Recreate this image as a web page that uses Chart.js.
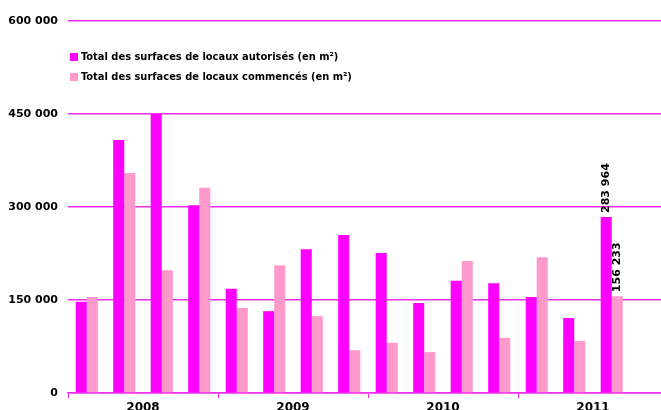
<!DOCTYPE html>
<html>
<head>
<meta charset="utf-8">
<script src="https://cdn.jsdelivr.net/npm/chart.js@4.4.0/dist/chart.umd.min.js"></script>
<style>
  html, body { margin: 0; padding: 0; background: #fff; overflow: hidden; }
  #wrap { width: 670px; height: 410px; }
</style>
</head>
<body>
<div id="wrap"><canvas id="c" width="670" height="410"></canvas></div>
<script>
const quarters = ['T1 2008','T2 2008','T3 2008','T4 2008','T1 2009','T2 2009','T3 2009','T4 2009',
                  'T1 2010','T2 2010','T3 2010','T4 2010','T1 2011','T2 2011','T3 2011','T4 2011'];
const years = ['2008','2009','2010','2011'];
const autorises = [147000, 408000, 450000, 303000, 168000, 132000, 232000, 255000,
                   226000, 145000, 181000, 177000, 155000, 121000, 283964, null];
const commences = [155000, 355000, 198000, 331000, 137000, 206000, 124000, 69000,
                   81000, 66000, 213000, 89000, 219000, 84000, 156233, null];
const yTicks = [0, 150000, 300000, 450000, 600000];
const labelledIndex = 14;
const seriesNames = ['Total des surfaces de locaux autorisés (en m²)',
                     'Total des surfaces de locaux commencés (en m²)'];

const MAGENTA = '#ff00ff';
const PINK = '#ff99cc';
const GRID = '#f02cf0';

function fmt(v) {
  return String(Math.round(v)).replace(/\B(?=(\d{3})+(?!\d))/g, ' ');
}

const tickFont = { family: "'DejaVu Sans', sans-serif", size: 11, weight: 'bold' };

const valueLabels = {
  id: 'valueLabels',
  afterDatasetsDraw(chart) {
    const ctx = chart.ctx;
    ctx.save();
    ctx.font = "bold 11px 'DejaVu Sans', sans-serif";
    ctx.fillStyle = '#000';
    ctx.textAlign = 'left';
    ctx.textBaseline = 'middle';
    chart.data.datasets.forEach((ds, i) => {
      const el = chart.getDatasetMeta(i).data[labelledIndex];
      const v = ds.data[labelledIndex];
      if (!el || v == null) return;
      ctx.save();
      ctx.translate(el.x, el.y - 4);
      ctx.rotate(-Math.PI / 2);
      ctx.fillText(fmt(v), 0, 0);
      ctx.restore();
    });
    ctx.restore();
  }
};

const innerLegend = {
  id: 'innerLegend',
  afterDraw(chart) {
    const ctx = chart.ctx;
    const x0 = chart.chartArea.left + 2;
    ctx.save();
    ctx.font = "bold 11px 'DejaVu Sans Condensed', 'Liberation Sans', sans-serif";
    ctx.textBaseline = 'middle';
    ctx.textAlign = 'left';
    chart.data.datasets.forEach((ds, i) => {
      const cy = 57 + i * 20;
      ctx.fillStyle = ds.backgroundColor;
      ctx.fillRect(x0, cy - 4, 8, 8);
      ctx.fillStyle = '#000';
      ctx.fillText(ds.label, x0 + 11, cy);
    });
    ctx.restore();
  }
};

new Chart(document.getElementById('c'), {
  type: 'bar',
  data: {
    labels: quarters,
    datasets: [
      { label: seriesNames[0], data: autorises, backgroundColor: MAGENTA },
      { label: seriesNames[1], data: commences, backgroundColor: PINK }
    ]
  },
  options: {
    responsive: false,
    animation: false,
    events: [],
    layout: { padding: { top: 21, right: 2, left: 0, bottom: 0 } },
    plugins: { legend: { display: false }, tooltip: { enabled: false } },
    datasets: { bar: { categoryPercentage: 0.59, barPercentage: 1.0 } },
    scales: {
      x: { display: false },
      xYear: {
        type: 'category',
        labels: years,
        position: 'bottom',
        offset: true,
        grid: { offset: true, drawOnChartArea: false, tickLength: 5, color: GRID, lineWidth: 1 },
        border: { display: true, color: GRID, width: 1.5 },
        ticks: { color: '#000', font: { family: "'DejaVu Sans', sans-serif", size: 12, weight: 'bold' }, padding: 3, maxRotation: 0 },
        afterFit(s) { s.height = 17; }
      },
      y: {
        min: 0,
        max: 600000,
        afterBuildTicks(s) { s.ticks = yTicks.map(v => ({ value: v })); },
        grid: { color: GRID, lineWidth: 1.5, drawTicks: false },
        border: { display: false },
        ticks: { color: '#000', font: tickFont, padding: 10, callback: v => fmt(v) },
        afterFit(s) { s.width = 68; }
      }
    }
  },
  plugins: [valueLabels, innerLegend]
});
</script>
</body>
</html>
